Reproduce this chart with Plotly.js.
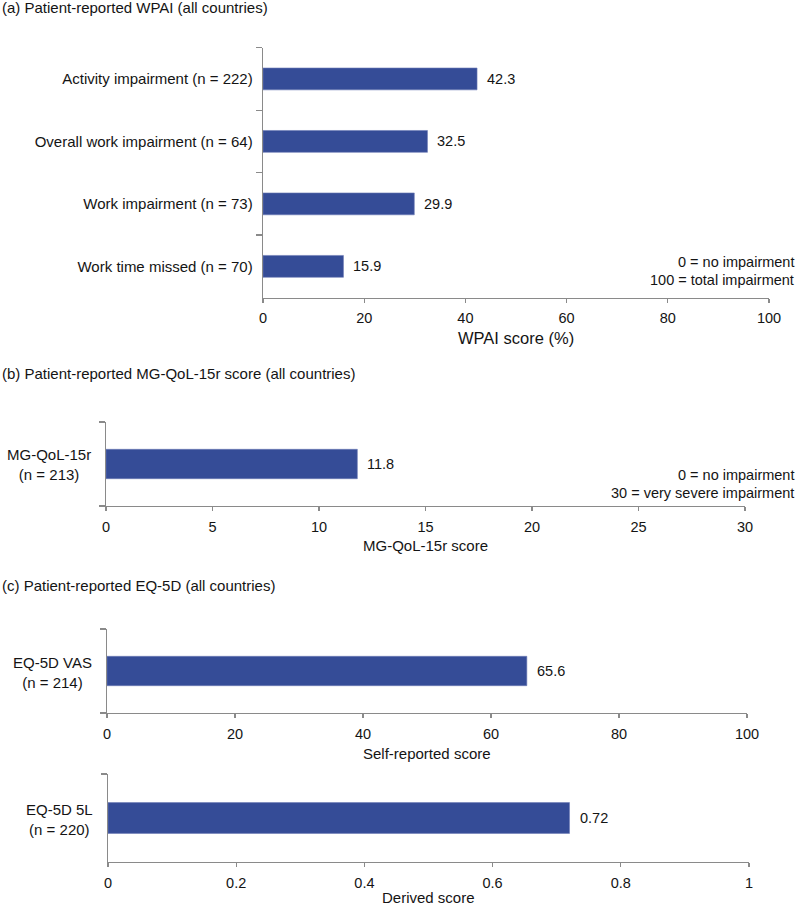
<!DOCTYPE html>
<html>
<head>
<meta charset="utf-8">
<script src="https://cdn.plot.ly/plotly-3.0.1.min.js"></script>
<style>html,body{margin:0;padding:0;background:#fff}#chart{width:797px;height:906px}</style>
</head>
<body>
<div id="chart"></div>
<script>
// ---- data ----
const wpaiCategories = ["Activity impairment (n = 222)", "Overall work impairment (n = 64)", "Work impairment (n = 73)", "Work time missed (n = 70)"];
const wpaiValues = [42.3, 32.5, 29.9, 15.9];
const wpaiLabels = ["42.3", "32.5", "29.9", "15.9"];

const qolCategories = ["MG-QoL-15r<br>(n = 213)"];
const qolValues = [11.8];
const qolLabels = ["11.8"];

const vasCategories = ["EQ-5D VAS<br>(n = 214)"];
const vasValues = [65.6];
const vasLabels = ["65.6"];

const eq5lCategories = ["EQ-5D 5L<br>(n = 220)"];
const eq5lValues = [0.72];
const eq5lLabels = ["0.72"];

const panelTitles = ["(a) Patient-reported WPAI (all countries)", "(b) Patient-reported MG-QoL-15r score (all countries)", "(c) Patient-reported EQ-5D (all countries)"];
const axisTitles = ["WPAI score (%)", "MG-QoL-15r score", "Self-reported score", "Derived score"];
const wpaiNotes = ["0 = no impairment", "100 = total impairment"];
const qolNotes = ["0 = no impairment", "30 = very severe impairment"];

// ---- layout helpers ----
const W = 797, H = 906;
const FONT = '"Liberation Sans", Arial, Helvetica, sans-serif';
const BAR = '#354C97';
const AX = '#8a8a8a';
const TXT = '#141414';
const px = v => v / W;
const py = v => 1 - v / H;

function bar(cats, vals, xa, ya) {
  return {
    type: 'bar', orientation: 'h', y: cats, x: vals, xaxis: xa, yaxis: ya,
    width: 0.35, marker: {color: BAR, line: {color: '#6c7bb5', width: 0.6}},
    hoverinfo: 'x+y'
  };
}
function xax(domain, ydomAnchor, range, dtick) {
  return {
    domain: domain, anchor: ydomAnchor, range: range, dtick: dtick, tick0: 0,
    showline: true, linecolor: AX, linewidth: 1.3, ticks: 'outside', ticklen: 4,
    tickcolor: AX, tickwidth: 1.3, showgrid: false, zeroline: false,
    tickfont: {family: FONT, size: 14.5, color: TXT}, ticklabelstandoff: 3,
    fixedrange: true
  };
}
function yax(domain, xAnchor, cats, showLabels) {
  return {
    domain: domain, anchor: xAnchor, type: 'category', categoryarray: cats,
    categoryorder: 'array', autorange: 'reversed',
    showline: true, linecolor: AX, linewidth: 1.3, ticks: 'outside', ticklen: 6,
    tickcolor: AX, tickwidth: 1.3, tickson: 'boundaries', showgrid: false, zeroline: false,
    showticklabels: showLabels, tickfont: {family: FONT, size: 15, color: TXT},
    ticklabelstandoff: 6, fixedrange: true
  };
}

const data = [
  bar(wpaiCategories, wpaiValues, 'x', 'y'),
  bar(qolCategories, qolValues, 'x2', 'y2'),
  bar(vasCategories, vasValues, 'x3', 'y3'),
  bar(eq5lCategories, eq5lValues, 'x4', 'y4')
];

const ann = [];
function txt(o) {
  ann.push(Object.assign({showarrow: false, font: {family: FONT, size: 15, color: TXT}}, o));
}
// value labels
function valueLabels(cats, vals, labels, xr, yr) {
  cats.forEach((c, i) => txt({xref: xr, yref: yr, x: vals[i], y: c, text: labels[i],
    xanchor: 'left', yanchor: 'middle', xshift: 8, font: {family: FONT, size: 14.5, color: TXT}}));
}
valueLabels(wpaiCategories, wpaiValues, wpaiLabels, 'x', 'y');
valueLabels(qolCategories, qolValues, qolLabels, 'x2', 'y2');
valueLabels(vasCategories, vasValues, vasLabels, 'x3', 'y3');
valueLabels(eq5lCategories, eq5lValues, eq5lLabels, 'x4', 'y4');

// centred category labels for single-bar panels
function catLabel(cats, xr, yr) {
  cats.forEach(c => txt({xref: xr, yref: yr, x: 0, y: c, text: c, xanchor: 'right',
    yanchor: 'middle', xshift: -13, yshift: -1, align: 'center'}));
}
catLabel(qolCategories, 'x2', 'y2');
catLabel(vasCategories, 'x3', 'y3');
catLabel(eq5lCategories, 'x4', 'y4');

// panel titles
[7, 373, 585].forEach((yy, i) => txt({xref: 'paper', yref: 'paper', x: 0, y: py(yy),
  text: panelTitles[i], xanchor: 'left', yanchor: 'middle'}));

// axis titles
const axisTitleSizes = [16.5, 15, 15, 15];
[[516, 338], [425, 545], [427, 753], [428, 897]].forEach((p, i) => txt({xref: 'paper', yref: 'paper',
  x: px(p[0]), y: py(p[1]), text: axisTitles[i], xanchor: 'center', yanchor: 'middle',
  font: {family: FONT, size: axisTitleSizes[i], color: TXT}}));

// notes
[262, 280].forEach((yy, i) => txt({xref: 'paper', yref: 'paper', x: px(796), y: py(yy),
  text: wpaiNotes[i], xanchor: 'right', yanchor: 'middle', font: {family: FONT, size: 14.5, color: TXT}}));
[475, 493].forEach((yy, i) => txt({xref: 'paper', yref: 'paper', x: px(796), y: py(yy),
  text: qolNotes[i], xanchor: 'right', yanchor: 'middle', font: {family: FONT, size: 14.5, color: TXT}}));

const layout = {
  width: W, height: H, margin: {l: 0, r: 0, t: 0, b: 0},
  paper_bgcolor: '#fff', plot_bgcolor: '#fff', showlegend: false,
  font: {family: FONT, size: 15, color: TXT},
  xaxis: xax([px(263), px(769)], 'y', [0, 100], 20),
  yaxis: yax([py(297.6), py(47.7)], 'x', wpaiCategories, true),
  xaxis2: xax([px(106), px(745)], 'y2', [0, 30], 5),
  yaxis2: yax([py(506), py(422)], 'x2', qolCategories, false),
  xaxis3: xax([px(107), px(747)], 'y3', [0, 100], 20),
  yaxis3: yax([py(713), py(629)], 'x3', vasCategories, false),
  xaxis4: xax([px(108), px(749)], 'y4', [0, 1], 0.2),
  yaxis4: yax([py(862), py(774)], 'x4', eq5lCategories, false),
  annotations: ann
};

Plotly.newPlot('chart', data, layout, {displayModeBar: false, staticPlot: true});
</script>
</body>
</html>
